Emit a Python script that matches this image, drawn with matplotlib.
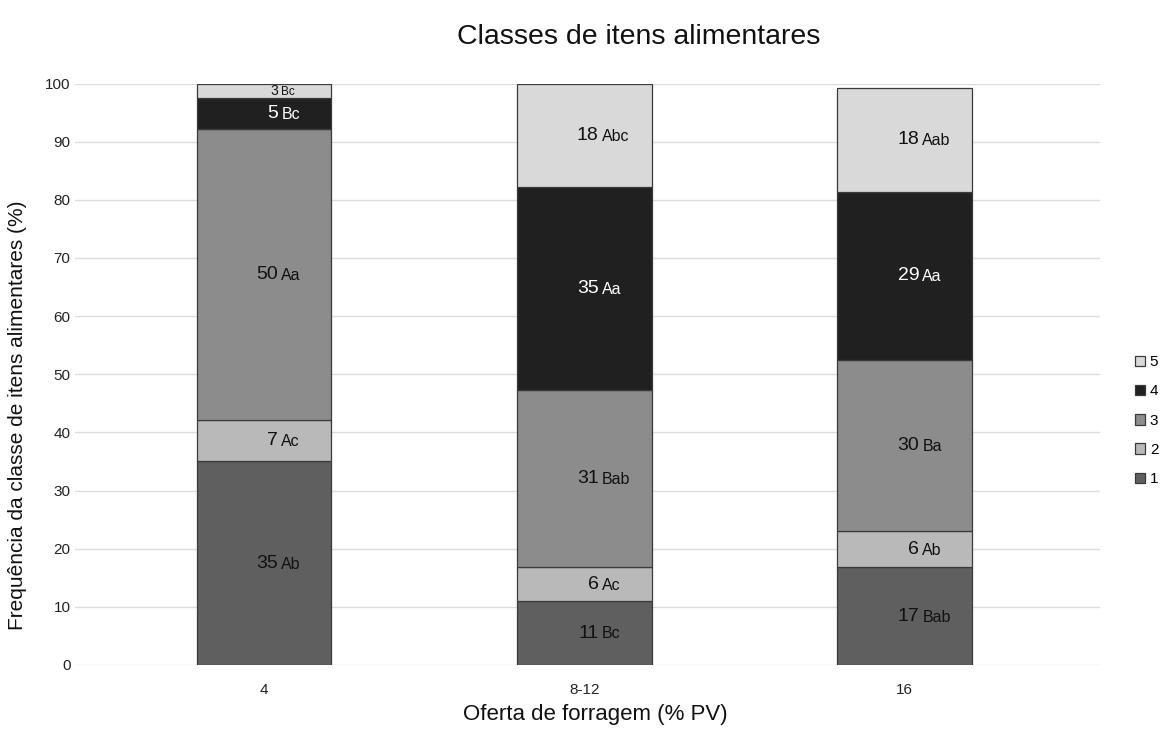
import matplotlib.pyplot as plt
import numpy as np

# data
categories = ['4', '8-12', '16']
classes = ['1', '2', '3', '4', '5']
class1 = [35.0, 11.0, 16.8]
class2 = [7.2, 5.8, 6.2]
class3 = [50.0, 30.5, 29.5]
class4 = [5.3, 34.9, 28.8]
class5 = [2.5, 17.8, 18.0]
nums = [['35', '7', '50', '5', '3'],
        ['11', '6', '31', '35', '18'],
        ['17', '6', '30', '29', '18']]
letters = [['Ab', 'Ac', 'Aa', 'Bc', 'Bc'],
           ['Bc', 'Ac', 'Bab', 'Aa', 'Abc'],
           ['Bab', 'Ab', 'Ba', 'Aa', 'Aab']]

colors = ['#5f5f5f', '#b9b9b9', '#8c8c8c', '#202020', '#d9d9d9']
txt_colors = ['#111111', '#111111', '#111111', 'white', '#111111']

plt.rcParams['font.family'] = ['Liberation Sans', 'DejaVu Sans']

fig = plt.figure(figsize=(11.68, 7.37), dpi=100)
ax = fig.add_axes([0.064, 0.0977, 0.878, 0.789])

x = np.arange(len(categories))
series = [class1, class2, class3, class4, class5]
bottom = np.zeros(len(categories))
handles = []
for i, vals in enumerate(series):
    b = ax.bar(x, vals, 0.42, bottom=bottom, color=colors[i],
               edgecolor='#3a3a3a', linewidth=0.9, label=classes[i], zorder=3)
    handles.append(b)
    for j in range(len(categories)):
        yc = bottom[j] + vals[j] / 2
        small = vals[j] < 4
        fs_n = 10 if small else 14
        fs_l = 8.5 if small else 11.5
        ax.text(x[j] + 0.045, yc, nums[j][i], ha='right', va='center',
                fontsize=fs_n, color=txt_colors[i], zorder=4)
        ax.text(x[j] + 0.055, yc - 0.15, letters[j][i], ha='left', va='center',
                fontsize=fs_l, color=txt_colors[i], zorder=4)
    bottom += np.array(vals)

ax.set_xlim(-0.59, 2.61)
ax.set_ylim(0, 100)
ax.set_yticks(range(0, 101, 10))
ax.set_xticks(x)
ax.set_xticklabels(categories)
ax.tick_params(length=0, labelsize=11, colors='#222222')
ax.tick_params(axis='y', pad=3)
ax.tick_params(axis='x', pad=13)
ax.yaxis.grid(True, color='#dcdcdc', linewidth=1, zorder=0)
for s in ax.spines.values():
    s.set_visible(False)

fig.text(0.547, 0.95, 'Classes de itens alimentares', fontsize=20.5,
         ha='center', va='center', color='#111111')
ax.set_xlabel('Oferta de forragem (% PV)', fontsize=16, color='#111111')
ax.xaxis.set_label_coords(0.508, -0.067)
ax.set_ylabel('Frequência da classe de itens alimentares (%)', fontsize=15,
              color='#111111')
ax.yaxis.set_label_coords(-0.047, 0.43)

leg = ax.legend(handles[::-1], classes[::-1], loc='center left',
                bbox_to_anchor=(1.02, 0.42), frameon=False, fontsize=11,
                handlelength=0.7, handleheight=0.7, handletextpad=0.3,
                labelspacing=1.0)

fig.savefig('out.png', dpi=100)
